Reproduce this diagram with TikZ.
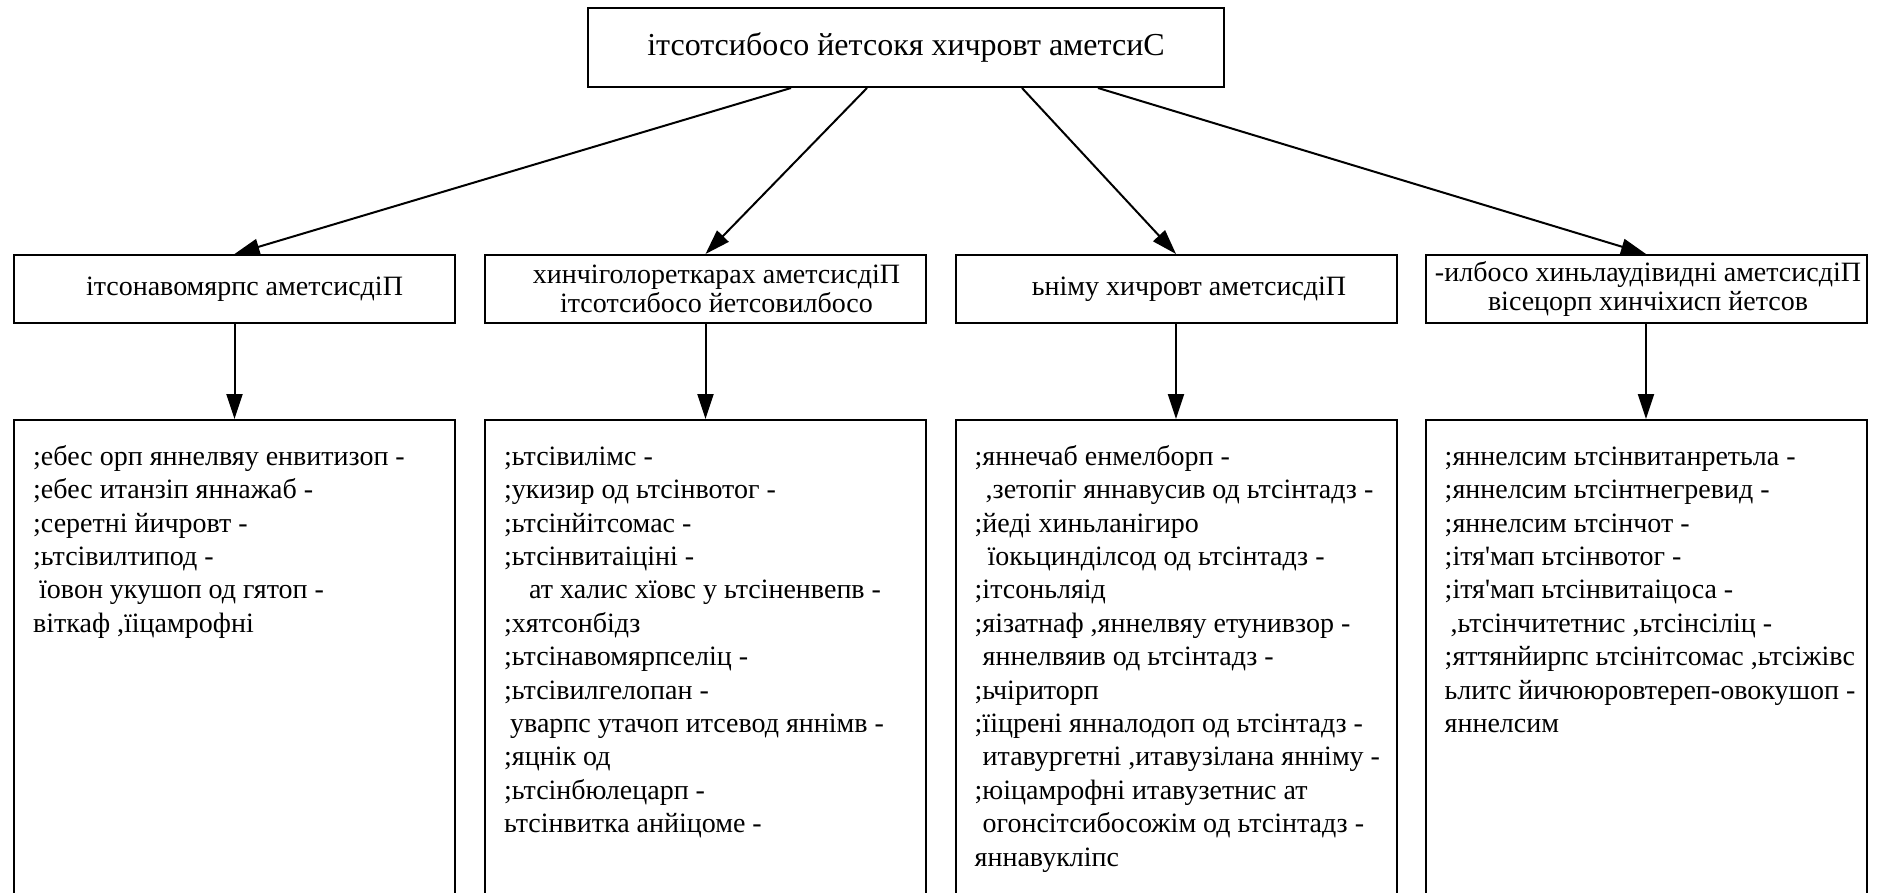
\documentclass[tikz,border=0pt]{standalone}
\usepackage{fontspec}
\newfontfamily\lsf{Liberation Serif}
\usetikzlibrary{arrows.meta}
\begin{document}
\begin{tikzpicture}[x=1pt,y=-1pt,
  every node/.style={font=\lsf},
  box/.style={draw, line width=2pt, inner sep=0pt},
  topbox/.style={box, minimum width=636pt, minimum height=79pt, font=\lsf\fontsize{32}{36}\selectfont},
  midbox/.style={box, minimum width=441pt, minimum height=68pt, align=center, font=\lsf\fontsize{28}{29}\selectfont},
  detbox/.style={box, minimum width=441pt, minimum height=520pt, anchor=north},
  dettext/.style={anchor=north west, align=left, inner sep=0pt, font=\lsf\fontsize{28}{33.4}\selectfont},
  conn/.style={line width=2pt, -{Triangle[length=25pt,width=16pt]}}]
\useasboundingbox (0,0) rectangle (1894,893);
\clip (0,0) rectangle (1894,893);

\node[topbox] (top) at (906,47.5) {ітсотсибосо йетсокя хичровт аметсиС};

\node[midbox] (p1) at (234.5,289) {\hspace*{20pt}ітсонавомярпс аметсисдіП};
\node[midbox] (p2) at (705.5,289) {\hspace*{22pt}хинчіголореткарах аметсисдіП\\\hspace*{22pt}ітсотсибосо йетсовилбосо};
\node[midbox] (p3) at (1176,289) {\hspace*{26pt}ьніму хичровт аметсисдіП};
\node[midbox] (p4) at (1646,289) {\hspace*{4pt}-илбосо хиньлаудівидні аметсисдіП\\\hspace*{4pt}вісецорп хинчіхисп йетсов};

\node[detbox] (d1) at (234.5,419) {};
\node[detbox] (d2) at (705.5,419) {};
\node[detbox] (d3) at (1176,419) {};
\node[detbox] (d4) at (1646,419) {};

\node[dettext] (t1) at ([xshift=20pt,yshift=-24pt]d1.north west) {\rule{0pt}{22pt};ебес орп яннелвяу енвитизоп -\\
;ебес итанзіп яннажаб -\\
;серетні йичровт -\\
;ьтсівилтипод -\\
\hspace*{6pt}їовон укушоп од гятоп -\\
віткаф ,їіцамрофні};

\node[dettext] (t2) at ([xshift=20pt,yshift=-24pt]d2.north west) {\rule{0pt}{22pt};ьтсівилімс -\\
;укизир од ьтсінвотог -\\
;ьтсінйітсомас -\\
;ьтсінвитаіціні -\\
\hspace*{25pt}ат халис хїовс у ьтсіненвепв -\\
;хятсонбідз\\
;ьтсінавомярпселіц -\\
;ьтсівилгелопан -\\
\hspace*{6pt}уварпс утачоп итсевод яннімв -\\
;яцнік од\\
;ьтсінбюлецарп -\\
ьтсінвитка анйіцоме -};

\node[dettext] (t3) at ([xshift=20pt,yshift=-24pt]d3.north west) {\rule{0pt}{22pt};яннечаб енмелборп -\\
\hspace*{11pt},зетопіг яннавусив од ьтсінтадз -\\
;йеді хиньланігиро\\
\hspace*{13pt}їокьцинділсод од ьтсінтадз -\\
;ітсоньляід\\
;яізатнаф ,яннелвяу етунивзор -\\
\hspace*{8pt}яннелвяив од ьтсінтадз -\\
;ьчіриторп\\
;їіцрені янналодоп од ьтсінтадз -\\
\hspace*{8pt}итавургетні ,итавузілана янніму -\\
;юіцамрофні итавузетнис ат\\
\hspace*{8pt}огонсітсибосожім од ьтсінтадз -\\
яннавукліпс};

\node[dettext] (t4) at ([xshift=20pt,yshift=-24pt]d4.north west) {\rule{0pt}{22pt};яннелсим ьтсінвитанретьла -\\
;яннелсим ьтсінтнегревид -\\
;яннелсим ьтсінчот -\\
;ітя'мап ьтсінвотог -\\
;ітя'мап ьтсінвитаіцоса -\\
\hspace*{6pt},ьтсінчитетнис ,ьтсінсіліц -\\
;яттянйирпс ьтсінітсомас ,ьтсіжівс\\
ьлитс йичююровтереп-овокушоп -\\
яннелсим};

\draw[conn] ([xshift=-115pt]top.south) -- (p1.north);
\draw[conn] ([xshift=-39pt]top.south) -- (p2.north);
\draw[conn] ([xshift=116pt]top.south) -- (p3.north);
\draw[conn] ([xshift=192pt]top.south) -- (p4.north);
\draw[conn] (p1.south) -- (d1.north);
\draw[conn] (p2.south) -- (d2.north);
\draw[conn] (p3.south) -- (d3.north);
\draw[conn] (p4.south) -- (d4.north);
\end{tikzpicture}
\end{document}
